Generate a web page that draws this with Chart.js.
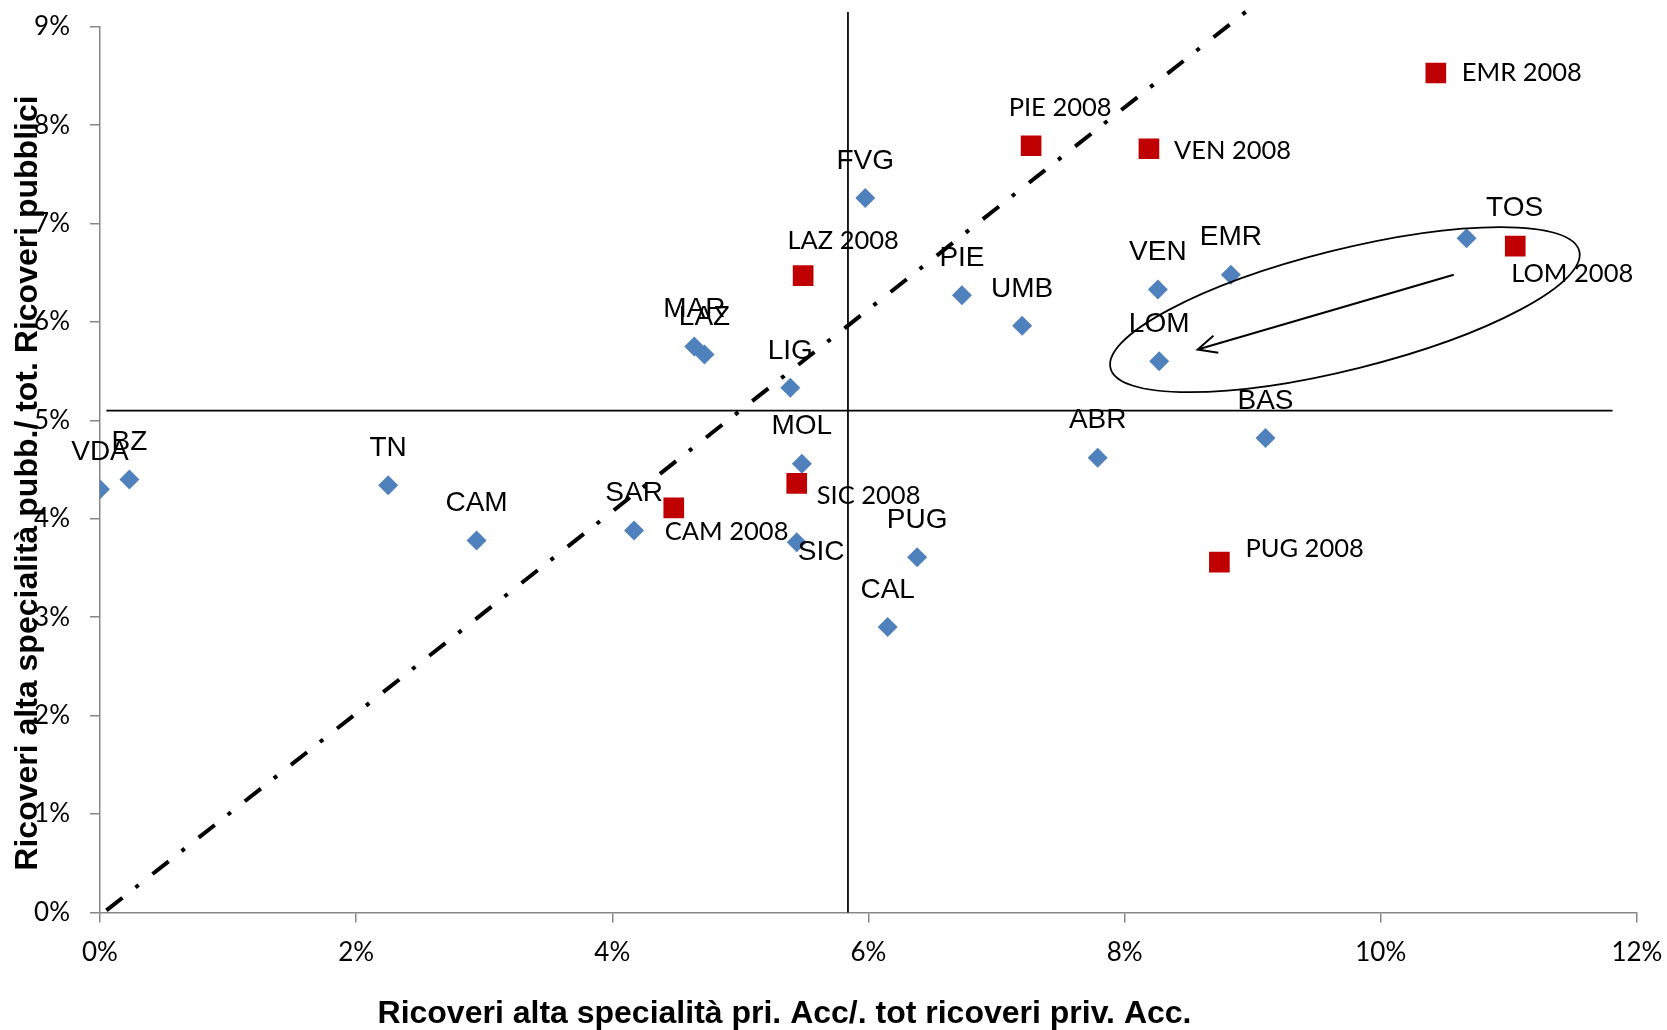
<!DOCTYPE html>
<html>
<head>
<meta charset="utf-8">
<script src="https://cdn.jsdelivr.net/npm/chart.js@4.4.1/dist/chart.umd.min.js"></script>
<style>
  html, body { margin: 0; padding: 0; background: #ffffff; }
  #wrap { width: 1667px; height: 1030px; position: relative; }
</style>
</head>
<body>
<div id="wrap"><canvas id="c" width="1667" height="1030"></canvas></div>
<script>
// ---------- DATA ----------
const regions = ['VDA','BZ','TN','CAM','SAR','MAR','LAZ','LIG','MOL','SIC','CAL','PUG','FVG','PIE','UMB','VEN','EMR','LOM','TOS','ABR','BAS'];
const privShare = [0.00, 0.23, 2.25, 2.94, 4.17, 4.64, 4.72, 5.39, 5.48, 5.44, 6.15, 6.38, 5.975, 6.73, 7.20, 8.26, 8.83, 8.27, 10.67, 7.79, 9.10];
const pubShare  = [4.30, 4.40, 4.34, 3.78, 3.88, 5.75, 5.67, 5.33, 4.56, 3.76, 2.90, 3.61, 7.26, 6.27, 5.96, 6.33, 6.48, 5.60, 6.85, 4.62, 4.82];

const regions2008 = ['LAZ 2008','SIC 2008','CAM 2008','PIE 2008','VEN 2008','EMR 2008','LOM 2008','PUG 2008'];
const privShare2008 = [5.49, 5.44, 4.48, 7.27, 8.19, 10.43, 11.05, 8.74];
const pubShare2008  = [6.47, 4.36, 4.11, 7.79, 7.76, 8.53, 6.77, 3.56];

const xTicks = [0, 2, 4, 6, 8, 10, 12];
const yTicks = [0, 1, 2, 3, 4, 5, 6, 7, 8, 9];

// reference lines / annotations (in data units)
const diagonalX = [0.05, 8.95];
const diagonalY = [0.02, 9.155];
const hLineX = [0.05, 11.81];
const hLineY = [5.10, 5.10];
const vLineX = [5.84, 5.84];
const vLineY = [0, 9.15];
const ellipseAxisX = [7.89, 11.55];
const ellipseAxisY = [5.53, 6.72];
const arrowX = [10.57, 8.57];
const arrowY = [6.48, 5.72];

const xTitle = 'Ricoveri alta specialità pri. Acc/. tot ricoveri priv. Acc.';
const yTitle = 'Ricoveri alta specialità pubb./ tot. Ricoveri pubblici';

// ---------- STYLE / PLACEMENT ----------
const labelPlacement = {
  default:    { align: 'center', dx: 0,  dy: -37 },
  'SIC':      { align: 'left',   dx: 1,  dy: 10 },
  'TOS':      { align: 'center', dx: 48, dy: -30 },
  'LAZ 2008': { align: 'center', dx: 40, dy: -35 },
  'SIC 2008': { align: 'left',   dx: 20, dy: 12 },
  'CAM 2008': { align: 'left',   dx: -9, dy: 24 },
  'PIE 2008': { align: 'center', dx: 29, dy: -38 },
  'VEN 2008': { align: 'left',   dx: 25, dy: 2 },
  'EMR 2008': { align: 'left',   dx: 26, dy: 0 },
  'LOM 2008': { align: 'center', dx: 57, dy: 28 },
  'PUG 2008': { align: 'left',   dx: 26, dy: -13 }
};

const AXIS_GRAY = '#878787';

const toPts = (xs, ys) => xs.map((x, i) => ({ x: x, y: ys[i] }));

const pointLabels = {
  id: 'pointLabels',
  afterDatasetsDraw(chart) {
    const ctx = chart.ctx;
    const xs = chart.scales.x, ys = chart.scales.y;
    ctx.save();
    // ellipse
    const e1x = xs.getPixelForValue(ellipseAxisX[0]), e1y = ys.getPixelForValue(ellipseAxisY[0]);
    const e2x = xs.getPixelForValue(ellipseAxisX[1]), e2y = ys.getPixelForValue(ellipseAxisY[1]);
    const ecx = (e1x + e2x) / 2, ecy = (e1y + e2y) / 2;
    const ea = Math.hypot(e2x - e1x, e2y - e1y) / 2;
    const eang = Math.atan2(e2y - e1y, e2x - e1x);
    ctx.beginPath();
    ctx.ellipse(ecx, ecy, ea, 60, eang, 0, Math.PI * 2);
    ctx.strokeStyle = '#000';
    ctx.lineWidth = 1.75;
    ctx.stroke();
    // arrow
    const a1x = xs.getPixelForValue(arrowX[0]), a1y = ys.getPixelForValue(arrowY[0]);
    const a2x = xs.getPixelForValue(arrowX[1]), a2y = ys.getPixelForValue(arrowY[1]);
    const ang = Math.atan2(a1y - a2y, a1x - a2x);
    ctx.beginPath();
    ctx.moveTo(a1x, a1y);
    ctx.lineTo(a2x, a2y);
    const hl = 21, ha = 25 * Math.PI / 180;
    ctx.moveTo(a2x + hl * Math.cos(ang - ha), a2y + hl * Math.sin(ang - ha));
    ctx.lineTo(a2x, a2y);
    ctx.lineTo(a2x + hl * Math.cos(ang + ha), a2y + hl * Math.sin(ang + ha));
    ctx.lineWidth = 2;
    ctx.stroke();

    // labels
    ctx.fillStyle = '#000';
    ctx.textBaseline = 'middle';
    const drawSet = (names, px, py, font) => {
      ctx.font = font;
      names.forEach((n, i) => {
        const p = labelPlacement[n] || labelPlacement.default;
        const x = xs.getPixelForValue(px[i]) + p.dx;
        const y = ys.getPixelForValue(py[i]) + p.dy;
        ctx.textAlign = p.align;
        ctx.fillText(n, x, y);
      });
    };
    drawSet(regions, privShare, pubShare, '28px "Liberation Sans", Arial, sans-serif');
    drawSet(regions2008, privShare2008, pubShare2008, '25.5px Lato, "Open Sans", sans-serif');
    ctx.restore();
  },
  afterDraw(chart) {
    const ctx = chart.ctx;
    ctx.save();
    ctx.fillStyle = '#000';
    ctx.font = 'bold 32px "Liberation Sans", Arial, sans-serif';
    ctx.textAlign = 'center';
    ctx.textBaseline = 'alphabetic';
    ctx.fillText(xTitle, 784.5, 1023);
    ctx.translate(37, 483);
    ctx.rotate(-Math.PI / 2);
    ctx.fillText(yTitle, 0, 0);
    ctx.restore();
  }
};

const tickFont = { family: 'Lato, "Open Sans", sans-serif', size: 26 };

const zeroPad = s => { s.paddingTop = 0; s.paddingBottom = 0; s.paddingLeft = 0; s.paddingRight = 0; };

new Chart(document.getElementById('c'), {
  type: 'scatter',
  data: {
    datasets: [
      {
        label: '2008',
        data: toPts(privShare2008, pubShare2008),
        pointStyle: 'rect',
        pointRadius: 14.6,
        pointBorderWidth: 0,
        backgroundColor: '#C00000',
        borderColor: '#C00000',
        order: 0
      },
      {
        label: 'Regioni',
        data: toPts(privShare, pubShare),
        pointStyle: 'rectRot',
        pointRadius: 10,
        pointBorderWidth: 0,
        backgroundColor: '#4F81BD',
        borderColor: '#4F81BD',
        order: 1
      },
      {
        type: 'line',
        label: 'diag',
        data: toPts(diagonalX, diagonalY),
        borderColor: '#000',
        borderWidth: 4,
        borderDash: [20.5, 16.5, 4, 17.75],
        borderCapStyle: 'butt',
        pointRadius: 0,
        fill: false,
        clip: false,
        order: 5
      },
      {
        type: 'line',
        label: 'h',
        data: toPts(hLineX, hLineY),
        borderColor: '#000',
        borderWidth: 1.75,
        pointRadius: 0,
        fill: false,
        clip: false,
        order: 6
      },
      {
        type: 'line',
        label: 'v',
        data: toPts(vLineX, vLineY),
        borderColor: '#000',
        borderWidth: 1.75,
        pointRadius: 0,
        fill: false,
        clip: false,
        order: 6
      }
    ]
  },
  options: {
    responsive: false,
    animation: false,
    devicePixelRatio: 1,
    layout: { padding: { top: 26.7, right: 30.1, left: 0, bottom: 0 } },
    plugins: {
      legend: { display: false },
      tooltip: { enabled: false },
      title: { display: false }
    },
    scales: {
      x: {
        type: 'linear',
        position: 'bottom',
        min: 0, max: 12,
        afterBuildTicks: s => { s.ticks = xTicks.map(v => ({ value: v })); },
        afterFit: s => { s.height = 117.6; zeroPad(s); },
        grid: { display: true, drawOnChartArea: false, drawTicks: true, tickLength: 10, color: AXIS_GRAY, lineWidth: 1.5 },
        border: { display: true, color: AXIS_GRAY, width: 1.5 },
        ticks: { color: '#000', font: tickFont, padding: 15, maxRotation: 0, callback: v => v + '%' }
      },
      y: {
        type: 'linear',
        position: 'left',
        min: 0, max: 9,
        afterBuildTicks: s => { s.ticks = yTicks.map(v => ({ value: v })); },
        afterFit: s => { s.width = 100; zeroPad(s); },
        grid: { display: true, drawOnChartArea: false, drawTicks: true, tickLength: 10, color: AXIS_GRAY, lineWidth: 1.5 },
        border: { display: true, color: AXIS_GRAY, width: 1.5 },
        ticks: { color: '#000', font: tickFont, padding: 20, callback: v => v + '%' }
      }
    }
  },
  plugins: [pointLabels]
});
</script>
</body>
</html>
